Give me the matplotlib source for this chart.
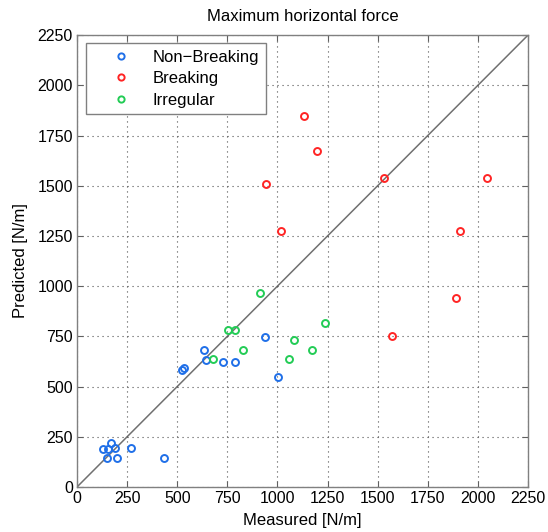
import matplotlib.pyplot as plt
import numpy as np

plt.rcParams['font.family'] = ['Liberation Sans', 'DejaVu Sans']
plt.rcParams['font.size'] = 12

# Measured vs predicted maximum horizontal force [N/m]
nb_measured = [131, 168, 157, 190, 151, 198, 268, 436, 526, 536, 636, 646, 726, 788, 939, 1002]
nb_predicted = [189, 220, 189, 192, 143, 144, 192, 144, 582, 592, 680, 630, 623, 623, 746, 547]

br_measured = [1131, 1197, 944, 1020, 1532, 2043, 1909, 1891, 1570]
br_predicted = [1849, 1673, 1511, 1277, 1541, 1541, 1275, 940, 751]

ir_measured = [754, 786, 678, 826, 1084, 1056, 1174, 1238, 914]
ir_predicted = [780, 780, 637, 683, 730, 637, 682, 816, 965]

ticks = np.arange(0, 2251, 250)

fig = plt.figure(figsize=(5.48, 5.32), dpi=100)
ax = fig.add_axes([0.1405, 0.0846, 0.823, 0.8494])

# 1:1 reference line
ax.plot([0, 2250], [0, 2250], color='#707070', lw=1.1, zorder=1)

mk = dict(marker='o', linestyle='none', markersize=5, markerfacecolor='none', markeredgewidth=1.4)
ax.plot(nb_measured, nb_predicted, color='#1f6fe8', label='Non\u2212Breaking', **mk)
ax.plot(br_measured, br_predicted, color='#ff2424', label='Breaking', **mk)
ax.plot(ir_measured, ir_predicted, color='#22cc55', label='Irregular', **mk)

ax.set_xlim(0, 2250)
ax.set_ylim(0, 2250)
ax.set_xticks(ticks)
ax.set_yticks(ticks)
ax.tick_params(direction='in', top=True, right=True, length=4, color='#606060',
               pad=3, labelsize=11.5)
ax.grid(True, linestyle=(0, (1, 3.5)), color='#505050', lw=0.8)
for s in ax.spines.values():
    s.set_color('#808080')
    s.set_linewidth(1.0)

ax.set_title('Maximum horizontal force', fontsize=12, pad=10)
ax.set_xlabel('Measured [N/m]', labelpad=5)
ax.set_ylabel('Predicted [N/m]', labelpad=7)

leg = ax.legend(loc='upper left', bbox_to_anchor=(0.02, 0.982), fancybox=False,
                edgecolor='#808080', framealpha=1, markerscale=0.9, handlelength=3.4,
                handletextpad=0.2, borderpad=0.4, labelspacing=0.38, fontsize=12,
                borderaxespad=0)
leg.get_frame().set_linewidth(1.0)

fig.savefig('out.png', dpi=100)
